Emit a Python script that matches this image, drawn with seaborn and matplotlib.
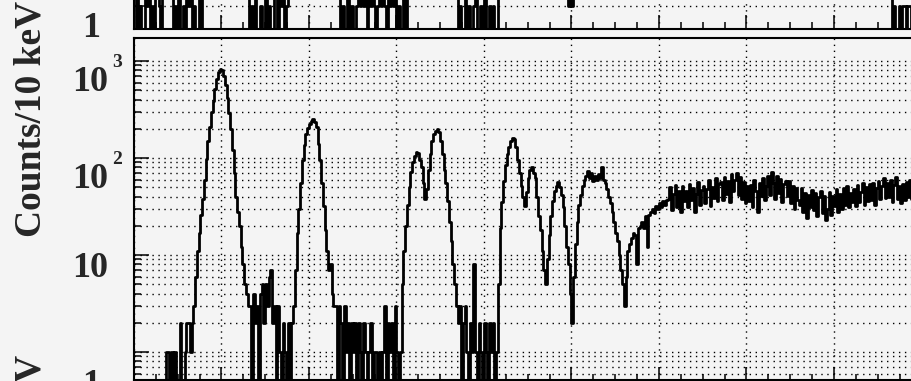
import numpy as np
import pandas as pd
import seaborn as sns
import matplotlib
matplotlib.use('Agg')
from matplotlib import pyplot as plt
from matplotlib import ticker, transforms

# ---- main spectrum, 20 keV bins from 0 keV (0 = empty bin) ----
bin_kev = 20
cnt_left = [0, 0, 0, 0, 0, 0, 0, 0, 0, 0, 0, 0, 0, 0, 0, 0, 0, 0, 1, 1,
            0, 1, 0, 1, 0, 0, 2, 0, 0, 1, 2, 2]
cnt_peak1 = [1, 2, 3, 6, 11, 17, 26, 38, 60, 98, 150, 210, 300, 390, 520, 660, 770,
             830, 800, 700, 560, 420, 290, 200, 120, 70, 40, 28, 20, 12, 8, 5, 4, 3]
cnt_gap1 = [3, 0, 4, 2, 3, 0, 4, 5, 2, 5, 3, 6, 7, 2, 3, 0, 3, 1, 0, 2, 1, 0, 2, 0, 2]
cnt_peak2 = [3, 7, 17, 30, 55, 95, 135, 175, 205, 225, 240, 250, 235, 210, 140, 95,
             55, 32, 18, 11, 7, 8, 4, 3]
cnt_gap2 = [3, 0, 3, 2, 0, 3, 1, 2, 0, 2, 1, 2, 0, 2, 1, 0, 2, 1, 0, 1,
            2, 0, 1, 1, 0, 1, 0, 1, 3, 0, 2, 1, 2, 0, 3, 1, 0]
cnt_peak3 = [1, 5, 11, 20, 33, 50, 72, 90, 105, 115, 112, 95, 80, 55, 38, 48, 75,
             110, 150, 175, 190, 198, 185, 150, 110, 75, 55, 36, 22, 14, 8, 5, 3, 2]
cnt_gap3 = [3, 0, 2, 3, 1, 0, 2, 1, 8, 1, 0, 2, 1, 0, 2, 1, 0, 2, 1, 2, 0]
cnt_multi = [1, 5, 19, 35, 58, 85, 110, 130, 150, 162,
             158, 130, 95, 70, 52, 40, 32, 45, 62, 75,
             80, 70, 62, 40, 25, 18, 11, 7, 5, 9,
             16, 25, 36, 46, 52, 56, 50, 42, 31, 20,
             12, 8, 4, 2, 6, 13, 22, 33, 42, 52,
             60, 66, 74, 62, 70, 58, 66, 60, 68, 62,
             80, 60, 55, 48, 40, 34, 28, 22, 17, 14,
             10, 7, 5, 3, 6, 11, 13, 15, 17, 16,
             8, 19, 20, 22, 19, 25, 12, 26, 28, 30,
             27, 32, 30, 34, 31, 36, 33, 37]
cnt_cont = [38, 50, 29, 43, 53, 31, 46, 28, 51, 36,
            46, 31, 54, 37, 49, 28, 43, 56, 33, 47,
            52, 34, 48, 60, 32, 50, 39, 62, 36, 54,
            57, 37, 64, 43, 58, 35, 68, 46,
            59, 70, 42, 64, 38, 57, 34, 52,
            36, 53, 31, 59, 46, 28, 55,
            41, 62, 37, 52, 66, 42, 72,
            55, 38, 65, 44, 61, 35, 54, 58,
            41, 58, 34, 51, 30, 49, 37,
            33, 49, 28, 44, 24, 42, 31, 47,
            29, 44, 25, 40, 46, 27, 41, 23,
            30, 45, 26, 41, 32, 48, 28,
            43, 30, 49, 33, 52, 31, 44, 35,
            48, 32, 53, 35, 45, 55, 33, 50, 36, 54,
            37, 55, 33, 49, 58, 38, 52, 62, 39,
            55, 40, 60, 35, 53, 63, 38, 52, 34,
            54, 37, 57, 40, 60, 38, 50]

# ---- upper panel spectrum: 20 keV runs with low counts, wide bins between ----
top_run_start = [0, 440, 1320, 2360, 3700, 4960, 8660]
top_run_counts = [
    [0, 2, 0, 1, 0, 0, 2, 1, 3, 0, 1, 0, 2, 2, 1, 0],
    [0, 1, 0, 2, 0, 0, 1, 0, 3, 1, 2, 0, 1, 0, 0, 2, 0],
    [0, 1, 0, 2, 0, 0, 1, 0, 0, 2, 0, 1, 0, 0, 3, 2, 0, 2, 1, 2, 0, 1],
    [0, 1, 0, 0, 2, 0, 1, 0, 0, 1, 2, 1, 2, 1, 2, 0, 2, 1, 2, 1,
     0, 1, 2, 1, 2, 1, 0, 2, 1, 2, 1, 2, 0, 1, 0, 0, 2, 0],
    [0, 1, 0, 0, 2, 0, 1, 0, 0, 1, 2, 0, 0, 1, 0, 2, 0, 0, 1, 0, 1, 0, 0, 2],
    [1, 2, 1],
    [0, 1, 0, 0, 1, 0, 1, 1, 0, 1, 1, 0, 1],
]
top_gap_counts = [2, 60, 40, 50, 45, 30]

ylabel_text = 'Counts/10 keV'
main_ytick_vals = [1, 10, 100, 1000]
main_ytick_base = ['1', '10', '10', '10']
main_ytick_exp = ['', '', '2', '3']
top_ytick_vals = [1, 10]
top_ytick_base = ['1', '10']
top_ytick_exp = ['', '']

bg = '#f4f4f4'
sns.set_theme(style='ticks', rc={'figure.facecolor': bg, 'axes.facecolor': 'none',
                                 'axes.edgecolor': 'black', 'axes.linewidth': 1.5})
plt.rcParams['font.family'] = ['Liberation Serif', 'DejaVu Serif']
plt.rcParams['font.weight'] = 'bold'

W, H = 912, 381
fig = plt.figure(figsize=(W / 100, H / 100), dpi=100)


def px_axes(left, top, right, bottom):
    return fig.add_axes([left / W, (H - bottom) / H, (right - left) / W, (bottom - top) / H])


def step_hist(a, edges, counts):
    # empty bins are drawn down to the bottom of the log axis, like ROOT does
    df = pd.DataFrame({'energy': 0.5 * (edges[:-1] + edges[1:]),
                       'counts': np.where(counts > 0, counts, 0.05)})
    sns.histplot(data=df, x='energy', weights='counts', bins=list(edges),
                 element='step', fill=False, color='black', linewidth=2.0, ax=a)


kev_per_px = 1000 / 87.5
ax = px_axes(134, 38, 960, 380)
ax_top = px_axes(134, -150, 960, 29)

main_counts = np.array(cnt_left + cnt_peak1 + cnt_gap1 + cnt_peak2 + cnt_gap2
                       + cnt_peak3 + cnt_gap3 + cnt_multi + cnt_cont, dtype=float)
step_hist(ax, np.arange(len(main_counts) + 1) * float(bin_kev), main_counts)

t_edges = [float(top_run_start[0])]
t_counts = []
for k, (start, vals) in enumerate(zip(top_run_start, top_run_counts)):
    if k > 0:
        t_edges.append(float(start))
        t_counts.append(top_gap_counts[k - 1])
    for j, v in enumerate(vals):
        t_edges.append(float(start + (j + 1) * bin_kev))
        t_counts.append(v)
step_hist(ax_top, np.array(t_edges), np.array(t_counts, dtype=float))

dots = (0, (1, 3.3))
for a, ylim in [(ax, (10 ** ((352 - 380) / 97), 10 ** ((352 - 38) / 97))),
                (ax_top, (10 ** (-(29 - 6) / 97), 10 ** ((6 + 150) / 97)))]:
    a.set_yscale('log')
    a.set_xlim(0, (960 - 134) * kev_per_px)
    a.set_ylim(*ylim)
    a.set_xlabel('')
    a.set_ylabel('')
    a.xaxis.set_major_locator(ticker.MultipleLocator(1000))
    a.xaxis.set_minor_locator(ticker.MultipleLocator(250))
    a.tick_params(axis='both', which='both', direction='in', width=1.1, color='black',
                  labelleft=False, labelbottom=False, left=True, bottom=True)
    a.set_axisbelow(True)
    a.grid(True, which='major', axis='x', color='black', linewidth=1.0, linestyle=dots)
    a.spines['right'].set_visible(False)
    for s in ['left', 'top', 'bottom']:
        a.spines[s].set_linewidth(1.5)

ax.yaxis.set_major_locator(ticker.FixedLocator(main_ytick_vals))
ax.yaxis.set_minor_locator(ticker.LogLocator(base=10, subs=np.arange(2, 10), numticks=30))
ax.yaxis.set_minor_formatter(ticker.NullFormatter())
ax.tick_params(axis='x', which='major', length=9.4)
ax.tick_params(axis='x', which='minor', length=4.3)
ax.tick_params(axis='y', which='major', length=10.8)
ax.tick_params(axis='y', which='minor', length=5)
ax.grid(True, which='both', axis='y', color='black', linewidth=1.0, linestyle=dots)

ax_top.yaxis.set_major_locator(ticker.FixedLocator(top_ytick_vals))
ax_top.yaxis.set_minor_locator(ticker.NullLocator())
ax_top.tick_params(axis='x', which='major', length=10)
ax_top.tick_params(axis='x', which='minor', length=5)
ax_top.tick_params(axis='y', which='major', length=10.8)
ax_top.grid(True, which='major', axis='y', color='black', linewidth=1.0, linestyle=dots)


def draw_ytick_labels(a, vals, bases, exps, one_dy):
    base_tr = a.get_yaxis_transform()
    for v, b, e in zip(vals, bases, exps):
        if e:
            dx, dy = -26, -30
        elif b == '10':
            dx, dy = -26, -22
        else:
            dx, dy = -34, one_dy
        tr = transforms.offset_copy(base_tr, fig=fig, x=dx, y=dy, units='dots')
        a.text(0, v, b, transform=tr, ha='right', va='baseline', fontsize=26,
               fontweight='bold', clip_on=False)
        if e:
            tr = transforms.offset_copy(base_tr, fig=fig, x=-22, y=-6, units='dots')
            a.text(0, v, e, transform=tr, ha='left', va='baseline', fontsize=14,
                   fontweight='bold', clip_on=False)


draw_ytick_labels(ax, main_ytick_vals, main_ytick_base, main_ytick_exp, -42)
draw_ytick_labels(ax_top, top_ytick_vals, top_ytick_base, top_ytick_exp, -31)

fig.text(31 / W, (H - 237) / H, ylabel_text, rotation=90, ha='center', va='bottom',
         fontsize=27, fontweight='bold')
fig.text(31 / W, (H - 355) / H, ylabel_text, rotation=90, ha='center', va='top',
         fontsize=27, fontweight='bold')

fig.savefig('out.png', dpi=100, facecolor=bg)
